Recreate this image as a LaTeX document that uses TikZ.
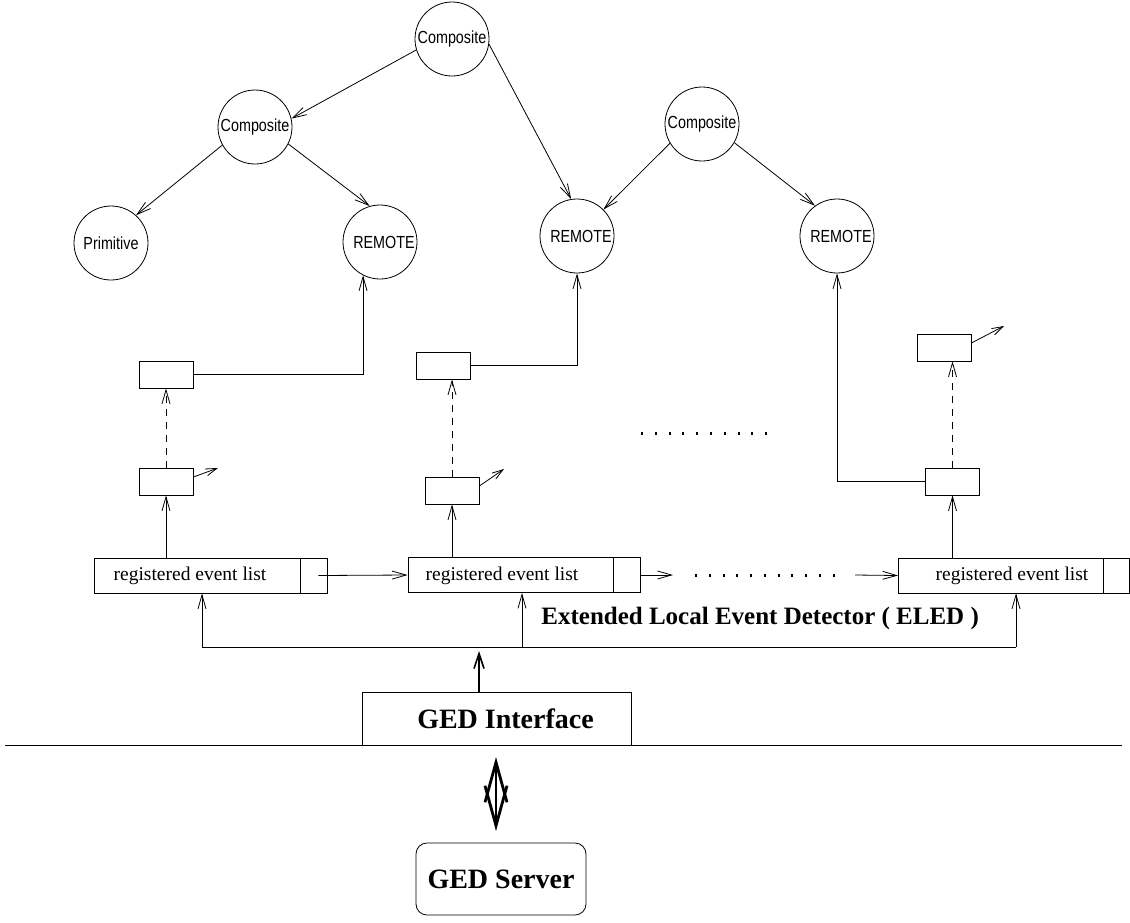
\documentclass[tikz,border=0pt]{standalone}
\usepackage{fontspec}
\setmainfont{Liberation Serif}
\newfontfamily\helvfont{Liberation Sans}
\usetikzlibrary{arrows.meta,calc}
\newcommand\narrowtxt[1]{\scalebox{0.82}[1]{#1}}

\tikzset{
  ev/.style={circle,draw,minimum size=74pt,inner sep=0pt,
    font=\helvfont\fontsize{17.5}{20}\selectfont},
  tagbox/.style={draw,minimum width=54pt,minimum height=27pt,inner sep=0pt},
  lstbox/.style={draw,minimum height=35pt,inner sep=0pt},
  lsttxt/.style={inner sep=0pt,font=\fontsize{19.5}{22}\selectfont},
  bigbox/.style={draw,inner sep=0pt,font=\bfseries\fontsize{28}{32}\selectfont},
  arr/.style={-{Straight Barb[length=14pt,width=8pt]}},
  smallarr/.style={-{Straight Barb[length=11pt,width=7pt]}},
  dashline/.style={dash pattern=on 7pt off 6pt},
  dotmark/.style={fill=black},
}

\begin{document}
\begin{tikzpicture}[x=1pt,y=-1pt,line width=0.8pt]
\useasboundingbox (0,0) rectangle (1130,922);

% event tree
\node[ev] (tc) at (452,39)  {\narrowtxt{Composite}};
\node[ev] (lc) at (255,127) {\narrowtxt{Composite}};
\node[ev] (rc) at (702,124) {\narrowtxt{Composite}};
\node[ev] (pr) at (111,243) {\narrowtxt{Primitive}};
\node[ev] (r1) at (380,242) {\hspace*{8pt}\narrowtxt{REMOTE}};
\node[ev] (r2) at (577,236) {\hspace*{8pt}\narrowtxt{REMOTE}};
\node[ev] (r3) at (837,236) {\hspace*{8pt}\narrowtxt{REMOTE}};

\draw[arr] (tc.197) -- (lc.13);
\draw[arr] (tc.-8)  -- (r2.99);
\draw[arr] (lc.209) -- (pr.48);
\draw[arr] (lc.-27) -- (r1.106);
\draw[arr] (rc.211) -- (r2.45);
\draw[arr] (rc.-30) -- (r3.126);

% small subscription boxes
\node[tagbox] (a1) at (166,374.5) {};
\node[tagbox] (a2) at (166,481.5) {};
\node[tagbox] (b1) at (443,365.5) {};
\node[tagbox] (b2) at (452,490.5) {};
\node[tagbox] (c1) at (944,347.5) {};
\node[tagbox] (c2) at (952.5,481.5) {};

\draw[arr] (a1.east) -| (r1.243);
\draw[arr] (b1.east) -| (r2.south);
\draw[arr] (c2.west) -| (r3.south);

\draw[dashline,arr] (a2.north) -- (a1.south);
\draw[dashline,arr] (b2.north) -- (b2.north |- b1.south);
\draw[dashline,arr] (c2.north) -- (c2.north |- c1.south);

\coordinate (sa) at (218,468);
\coordinate (sb) at (504,469);
\coordinate (sc) at (1004,326);
\draw[smallarr] ([yshift=4.5pt]a2.east) -- (sa);
\draw[smallarr] ([yshift=4.5pt]b2.east) -- (sb);
\draw[smallarr] ([yshift=4.5pt]c1.east) -- (sc);

% dotted continuation marks
\foreach \i in {0,...,9}
  \fill[dotmark] (641+13.8*\i,431.5) rectangle ++(2,3);
\foreach \i in {0,...,10}
  \fill[dotmark] (695+13.75*\i,573.5) rectangle ++(2,3);

% registered event lists
\node[lstbox,minimum width=233pt] (l1) at (210.5,575.5) {};
\node[lstbox,minimum width=232pt] (l2) at (524,575)   {};
\node[lstbox,minimum width=231pt] (l3) at (1014,575.5) {};
\foreach \l in {l1,l2,l3}
  \draw ([xshift=-27pt]\l.north east) -- ([xshift=-27pt]\l.south east);
\node[lsttxt] at (190,576)  {registered event list};
\node[lsttxt] at (502,576)  {registered event list};
\node[lsttxt] at (1012,576) {registered event list};

\coordinate (d1) at (673,575);
\coordinate (d2) at (855,575);
\draw[arr] ([xshift=-9pt]l1.east) -- (l2.west);
\draw[arr] (l2.east) -- (d1);
\draw[arr] (d2) -- (l3.west);

\draw[arr] (l1.north -| a2.south) -- (a2.south);
\draw[arr] (l2.north -| b2.south) -- (b2.south);
\draw[arr] (l3.north -| c2.south) -- (c2.south);

% ELED bus
\coordinate (bl) at (202,647);
\coordinate (bm) at (522,647);
\coordinate (br) at (1016,647);
\draw (bl) -- (br);
\draw[arr] (bl) -- (bl |- l1.south);
\draw[arr] (bm) -- (bm |- l2.south);
\draw[arr] (br) -- (br |- l3.south);
\node[anchor=west,inner sep=0pt,font=\bfseries\fontsize{25}{28}\selectfont]
  (eled) at (541,618) {Extended Local Event Detector ( ELED )};

% GED interface and server
\node[bigbox,minimum width=269pt,minimum height=53pt] (gi) at (496.5,718.5) {\hspace*{18pt}GED Interface};
\draw[line width=1.6pt,-{Straight Barb[length=15pt,width=10pt]},shorten >=4pt]
  ([xshift=-17.5pt]gi.north) -- ([xshift=-17.5pt]gi.north |- bm);

\coordinate (h1) at (5,745);
\coordinate (h2) at (1122,745);
\draw (h1) -- (h2);

\coordinate (da1) at (496,757);
\coordinate (da2) at (496,831);
\draw[line width=2.8pt,{Straight Barb[length=40pt,width=22pt]}-{Straight Barb[length=40pt,width=22pt]}]
  (da1) -- (da2);

\node[bigbox,rounded corners=11pt,minimum width=170pt,minimum height=72pt] (gs) at (501,879) {GED Server};
\end{tikzpicture}
\end{document}
